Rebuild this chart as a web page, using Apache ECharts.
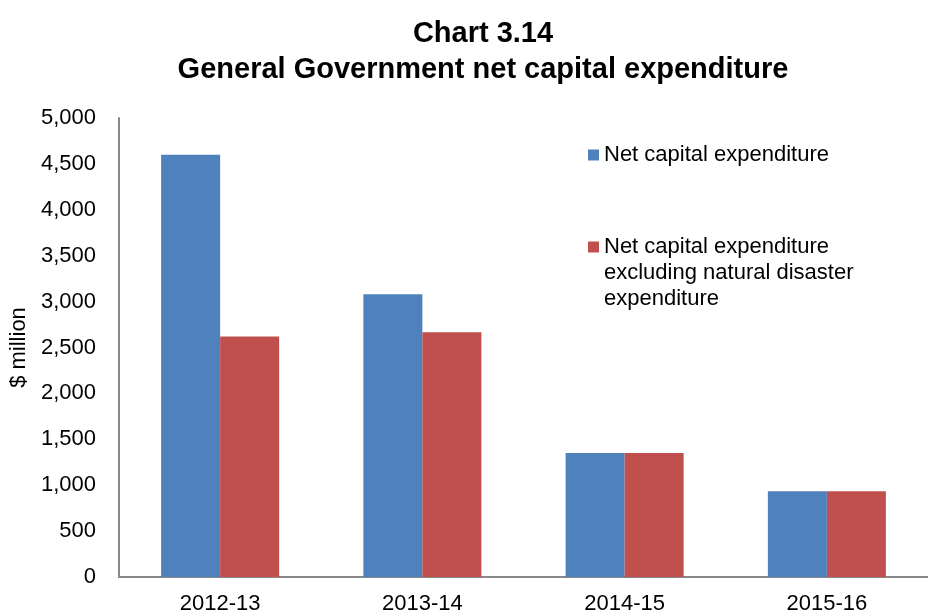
<!DOCTYPE html>
<html>
<head>
<meta charset="utf-8">
<script src="https://cdn.jsdelivr.net/npm/echarts@6/dist/echarts.min.js"></script>
<style>
  html, body { margin: 0; padding: 0; background: #fff; }
  #chart { width: 928px; height: 615px; }
</style>
</head>
<body>
<div id="chart"></div>
<script>
// 数据
var years = ['2012-13', '2013-14', '2014-15', '2015-16'];
var netCapex = [4600, 3080, 1350, 935];
var netCapexExNd = [2620, 2665, 1350, 935];
var yTicks = { min: 0, max: 5000, interval: 500 };

var font = 'Arial, "Liberation Sans", sans-serif';

var myChart = echarts.init(document.getElementById('chart'));

var option = {
    animation: false,
    title: {
        text: 'Chart 3.14\nGeneral Government net capital expenditure',
        left: 478,
        textAlign: 'center',
        top: 11,
        textStyle: {
            fontFamily: font,
            fontWeight: 'bold',
            fontSize: 29,
            lineHeight: 36,
            color: '#000'
        }
    },
    color: ['#4F81BD', '#C0504D'],
    legend: [{
        data: ['Net capital expenditure'],
        left: 583,
        top: 139,
        orient: 'vertical',
        itemWidth: 11,
        itemHeight: 11,
        icon: 'rect',
        itemGap: 5,
        textStyle: { fontFamily: font, fontSize: 22, color: '#000' }
    }, {
        data: ['Net capital expenditure excluding natural disaster expenditure'],
        left: 583,
        top: 177,
        orient: 'vertical',
        itemWidth: 11,
        itemHeight: 11,
        icon: 'rect',
        // 两个空行，让图标对齐第一行文字
        formatter: function () {
            return '\n\nNet capital expenditure\nexcluding natural disaster\nexpenditure';
        },
        textStyle: {
            fontFamily: font, fontSize: 22, color: '#000',
            lineHeight: 26
        }
    }],
    grid: {
        left: 117,
        right: -14,
        top: 118,
        bottom: 37,
        containLabel: false
    },
    xAxis: {
        type: 'category',
        data: years,
        axisLine: { lineStyle: { color: '#888', width: 2 } },
        axisTick: { show: false },
        axisLabel: {
            fontFamily: font, fontSize: 22, color: '#000', margin: 16
        }
    },
    yAxis: {
        type: 'value',
        min: yTicks.min,
        max: yTicks.max,
        interval: yTicks.interval,
        name: '$ million',
        nameLocation: 'middle',
        nameGap: 89,
        nameTextStyle: { fontFamily: font, fontSize: 22, color: '#000' },
        axisLine: { show: true, lineStyle: { color: '#888', width: 2 } },
        axisTick: { show: false },
        splitLine: { show: false },
        axisLabel: {
            fontFamily: font, fontSize: 22, color: '#000', margin: 23,
            formatter: function (v) { return v.toLocaleString('en-US'); }
        }
    },
    series: [{
        name: 'Net capital expenditure',
        type: 'bar',
        data: netCapex,
        barWidth: 59,
        barGap: '0%'
    }, {
        name: 'Net capital expenditure excluding natural disaster expenditure',
        type: 'bar',
        data: netCapexExNd,
        barWidth: 59,
        barGap: '0%'
    }]
};

// 使用刚指定的配置项和数据显示图表。
myChart.setOption(option);
</script>
</body>
</html>
